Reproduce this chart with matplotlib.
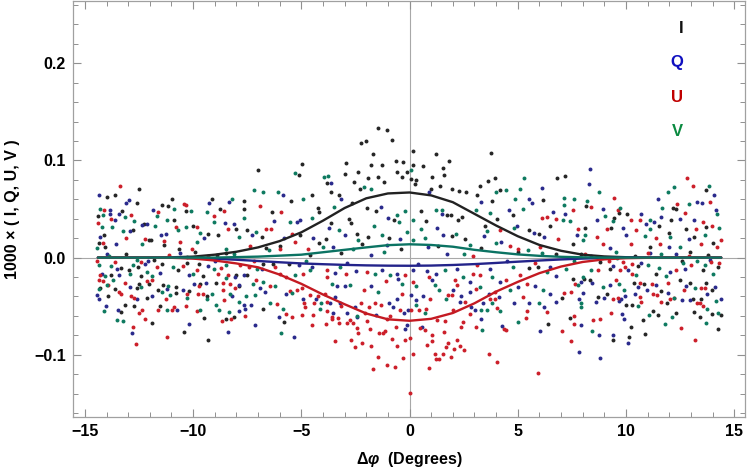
import numpy as np
import matplotlib
matplotlib.use("Agg")
import matplotlib.pyplot as plt
from matplotlib.ticker import MultipleLocator, FuncFormatter

plt.rcParams['font.family'] = ['Liberation Sans', 'DejaVu Sans']
plt.rcParams['font.weight'] = 'bold'
plt.rcParams['mathtext.fontset'] = 'custom'
plt.rcParams['mathtext.rm'] = 'Liberation Sans:bold'
plt.rcParams['mathtext.it'] = 'Liberation Sans:italic:bold'
plt.rcParams['mathtext.bf'] = 'Liberation Sans:bold'

# ---------------- data ----------------
series_names = ["I", "Q", "U", "V"]

I_points = [(-13.97,0.0628),(-13.62,0.0646),(-12.48,0.071),(-12.6,0.0564),(-10.98,0.0608),(-11.44,0.0543),(-11.15,0.0533),(-10.35,0.0478),(-9.15,0.0601),(-8.78,0.0499),(-7.67,0.0584),(-7.64,0.0495),(-14.4,0.043),(-13.28,0.0478),(-12.77,0.028),(-14.12,0.0232),(-14.37,0.0153),(-14.05,0.0109),(-12.25,0.0345),(-12.06,0.0181),(-11.95,0.0181),(-11.35,0.0126),(-10.87,0.0382),(-10.0,0.0321),(-9.3,0.024),(-8.86,0.0236),(-8.0,0.0297),(-7.53,0.028),(-10.66,0.0092),(-8.46,0.0051),
(-1.45,0.1333),(-1.05,0.1316),(-2.02,0.12),(-2.23,0.118),(-0.82,0.1206),(-1.69,0.1066),(-6.98,0.0905),(-4.96,0.096),(-5.11,0.0854),(-2.93,0.0977),(-1.77,0.0953),(-1.25,0.0953),(-0.63,0.0991),(-0.29,0.098),(-0.56,0.0885),(-0.14,0.0878),(-0.37,0.0827),(-2.4,0.0878),(-2.96,0.0861),(-3.8,0.0765),(-3.62,0.068),(-2.57,0.0776),(-1.9,0.082),(-1.48,0.0827),(-1.16,0.0776),(-2.3,0.0707),(-4.5,0.0642),(-5.48,0.0587),(-4.23,0.0509),(-3.28,0.0642),(-2.68,0.0564),(-1.57,0.0478),(-1.97,0.0512),(-6.36,0.0471),(-4.17,0.0468),(-2.79,0.0399),(-2.7,0.0358),(-0.73,0.0382),(-3.63,0.0358),(-6.81,0.0215),(-5.07,0.0229),(-3.87,0.0195),(-2.45,0.0246),(-1.93,0.0212),(-0.96,0.0205),(-6.64,0.0102),(-3.19,0.0048),(-4.6,0.0023),
(0.14,0.110),(1.21,0.1066),(3.76,0.108),(1.83,0.0998),(0.17,0.0957),(0.6,0.0943),(1.54,0.0923),(1.58,0.0851),(0.09,0.081),(0.32,0.08),(1.06,0.0827),(0.25,0.0758),(1.43,0.0738),(1.01,0.0707),(1.97,0.071),(3.26,0.0735),(3.62,0.0793),(3.93,0.082),(6.83,0.082),(7.17,0.0841),(4.2,0.0693),(2.29,0.0683),(2.6,0.0673),(3.11,0.0649),(3.8,0.0587),(6.16,0.059),(0.52,0.0478),(1.72,0.0437),(1.92,0.0434),(2.23,0.0389),(2.43,0.0416),(4.02,0.0396),(4.77,0.0441),(0.75,0.0372),(1.94,0.0222),(3.48,0.0324),(5.53,0.028),(5.99,0.0246),(6.48,0.0321),(2.55,0.0188),(6.79,0.0041),
(13.7,0.07),(8.17,0.0529),(9.67,0.0457),(12.18,0.0512),(12.3,0.0502),(10.04,0.0451),(9.45,0.0406),(8.11,0.0307),(11.53,0.0321),(12.07,0.0382),(12.79,0.0297),(13.72,0.0314),(9.33,0.0304),(12.01,0.0253),(13.13,0.0212),(7.53,0.0143),(11.1,0.0109),(14.02,0.015),(12.94,0.0058),
(-11.91,-0.0677),(-10.41,-0.0763),(-9.3,-0.0845),(-9.49,-0.0619),(-8.47,-0.0633),(-8.12,-0.0616),(-13.31,-0.0558),(-13.17,-0.0486),(-12.72,-0.0493),(-11.52,-0.0503),(-13.92,-0.04),(-12.12,-0.0414),(-10.8,-0.036),(-9.35,-0.0397),(-14.31,-0.0312),(-13.62,-0.0318),(-12.61,-0.0312),(-12.49,-0.0267),(-12.03,-0.0267),(-11.64,-0.0329),(-11.41,-0.0277),(-10.8,-0.0301),(-10.21,-0.0342),(-9.66,-0.0267),(-8.92,-0.0257),(-7.53,-0.0182),(-7.9,-0.0294),(-13.8,-0.0178),(-13.35,-0.0103),(-12.95,-0.013),(-12.55,-0.0096),(-12.43,-0.0192),(-11.46,-0.0062),(-10.69,-0.013),(-10.3,-0.0055),(-9.74,-0.0062),(-9.53,-0.0185),(-8.03,-0.0178),
(-6.79,-0.0524),(-5.79,-0.066),(-6.76,-0.0062),(-6.3,-0.0069),(-5.56,-0.0069),(6.39,-0.0684),(7.04,-0.0411),(5.53,-0.0103),(5.94,-0.0096),
(10.88,-0.079),(9.42,-0.0845),(10.13,-0.0821),(10.21,-0.0711),(14.26,-0.0739),(10.78,-0.0647),(7.43,-0.0626),(11.48,-0.0592),(12.32,-0.0568),(11.25,-0.0551),(13.16,-0.0558),(13.41,-0.0609),(13.99,-0.0582),(14.41,-0.0592),(10.3,-0.0489),(11.9,-0.0472),(13.09,-0.0424),(13.45,-0.0424),(10.02,-0.0489),(8.73,-0.0404),(9.13,-0.037),(11.64,-0.0342),(13.99,-0.0335),(13.72,-0.026),(12.98,-0.026),(12.49,-0.0233),(10.82,-0.0274),(10.36,-0.026),(10.56,-0.0089),(11.41,-0.0164),(8.33,-0.0233),(7.56,-0.0216),(8.08,-0.0216),(9.25,-0.0113),(13.56,-0.013),(14.26,-0.0096),
(-13.1,0.004),(-11.8,-0.002),(-9.9,0.006),(-8.9,0.003),(-6.0,0.012),(-4.2,0.015),(-2.2,0.014),(-0.4,0.009),(1.3,0.012),(3.3,0.010),(5.0,0.006),(7.9,0.004),(8.8,-0.005),(10.4,0.002),(12.6,-0.003),(13.8,0.003)]

Q_points = [(-14.35,0.0649),(-12.95,0.0594),(-13.11,0.056),(-9.26,0.056),(-8.33,0.0574),(-13.86,0.0492),(-13.83,0.0444),(-13.62,0.0386),(-13.43,0.0444),(-14.28,0.0215),(-13.57,0.014),(-12.91,0.0269),(-12.35,0.0338),(-12.11,0.0341),(-11.84,0.0485),(-11.26,0.0246),(-11.5,0.0228),(-9.49,0.0205),(-8.52,0.0359),(-8.12,0.0341),
(-3.62,0.0769),(-5.84,0.0642),(-3.19,0.0608),(-1.31,0.0519),(-6.25,0.0375),(-5.07,0.0389),(-5.2,0.0362),(-1.0,0.0409),(-3.7,0.0304),(-7.28,0.0232),(-5.82,0.0205),(-4.45,0.0205),(-3.0,0.0229),(-0.45,0.0191),(-3.53,0.0109),(-1.06,0.0126),
(6.1,0.0714),(0.88,0.068),(3.31,0.0577),(5.53,0.0601),(5.65,0.0564),(1.52,0.0451),(4.59,0.0492),(6.63,0.0468),(7.17,0.0444),(1.25,0.0307),(1.55,0.0229),(3.45,0.0222),(4.97,0.0321),(5.76,0.0253),(6.2,0.0212),(4.23,0.016),(0.86,0.0109),(1.71,0.0041),
(8.33,0.0912),(8.28,0.0758),(14.06,0.0639),(11.5,0.0608),(8.94,0.0502),(13.3,0.0567),(13.53,0.056),(14.18,0.0492),(10.7,0.0451),(11.64,0.0416),(13.15,0.0389),(8.64,0.0389),(11.28,0.0365),(10.91,0.0341),(12.48,0.0399),(9.87,0.0307),(7.74,0.0236),(9.99,0.0229),(12.92,0.0195),(9.25,0.0102),(11.99,0.0109),(11.1,0.0048),
(-12.83,-0.0773),(-10.2,-0.0688),(-8.4,-0.0766),(-13.48,-0.054),(-14.02,-0.0493),(-10.75,-0.0537),(-7.9,-0.0548),(-7.67,-0.0483),(-7.59,-0.053),(-8.21,-0.04),(-14.42,-0.038),(-14.34,-0.0428),(-12.57,-0.0424),(-11.88,-0.0397),(-7.87,-0.0284),(-12.92,-0.0301),(-11.2,-0.0318),(-10.49,-0.0329),(-9.97,-0.0267),(-9.41,-0.0257),(-8.06,-0.0199),(-14.22,-0.0171),(-13.41,-0.0178),(-13.54,-0.0117),(-12.23,-0.0062),(-11.51,-0.0158),(-10.18,-0.0182),(-9.3,-0.0089),(-7.66,-0.0182),
(-5.34,-0.0821),(-7.16,-0.0695),(-6.02,-0.0616),(-0.22,-0.0739),(-0.11,-0.0695),(-2.45,-0.0616),(-3.53,-0.0575),(-1.53,-0.0592),(-0.26,-0.0575),(-0.05,-0.0534),(-7.31,-0.0489),(-4.91,-0.0421),(-3.68,-0.0472),(-2.88,-0.0568),(-4.3,-0.0431),(-3.43,-0.0404),(-3.22,-0.0465),(-2.51,-0.0507),(-0.94,-0.0472),(-0.76,-0.0507),(-0.6,-0.0421),(-0.52,-0.0216),(-1.76,-0.0294),(-2.99,-0.0294),(-3.34,-0.0294),(-5.71,-0.0377),(-6.68,-0.0359),(-6.91,-0.0315),(-3.43,-0.0158),(-2.48,-0.0137),(-1.25,-0.013),(-0.6,-0.0164),(-4.53,-0.0096),
(0.57,-0.0712),(4.25,-0.0705),(6.03,-0.0756),(3.31,-0.0636),(3.03,-0.054),(3.4,-0.0466),(2.32,-0.0455),(2.86,-0.0507),(0.29,-0.0438),(0.63,-0.0397),(2.4,-0.0397),(2.02,-0.0336),(2.79,-0.0353),(3.66,-0.037),(4.14,-0.0404),(4.82,-0.0472),(5.53,-0.0472),(6.22,-0.0507),(6.76,-0.0455),(6.48,-0.037),(5.79,-0.0294),(5.02,-0.0301),(4.17,-0.025),(2.79,-0.025),(1.06,-0.0233),(0.09,-0.038),(0.81,-0.0137),(1.22,-0.0164),(3.71,-0.0113),(6.79,-0.0192),(0.17,-0.013),
(8.8,-0.1029),(7.84,-0.0971),(10.08,-0.0883),(9.38,-0.0794),(8.76,-0.0801),(7.9,-0.0698),(9.91,-0.063),(9.82,-0.0581),(12.61,-0.0438),(12.95,-0.0438),(14.39,-0.0424),(7.82,-0.0428),(8.6,-0.0455),(9.68,-0.0448),(9.79,-0.0421),(9.96,-0.0397),(8.02,-0.0363),(8.99,-0.0411),(10.41,-0.037),(11.41,-0.0284),(11.96,-0.0363),(13.75,-0.037),(14.12,-0.0301),(12.79,-0.0294),(10.98,-0.0336),(10.56,-0.0301),(10.1,-0.013),(9.25,-0.0284),(7.9,-0.025),(8.45,-0.026),(9.41,-0.0089),(12.02,-0.0147),(12.72,-0.0113),
(-14.0,0.004),(-12.1,-0.003),(-10.6,0.005),(-9.0,-0.004),(-6.8,-0.012),(-5.1,-0.008),(-2.9,-0.006),(-1.8,0.003),(0.4,-0.007),(2.2,-0.012),(4.5,-0.004),(6.5,-0.010),(8.4,0.002),(10.7,-0.006),(12.3,0.004),(13.9,-0.002)]

U_points = [(-13.38,0.0741),(-10.4,0.0553),(-10.32,0.054),(-8.58,0.0481),(-14.11,0.0488),(-14.4,0.0352),(-13.78,0.0392),(-12.85,0.0434),(-14.15,0.0153),(-13.11,0.0205),(-11.61,0.0468),(-12.23,0.0195),(-11.35,0.017),(-10.8,0.0314),(-9.84,0.0311),(-9.04,0.0423),(-8.41,0.0297),(-10.61,0.016),(-10.07,0.0089),
(-6.93,0.0533),(-5.94,0.0464),(-6.65,0.0297),(-6.41,0.0297),(-5.45,0.0246),(-5.31,0.0157),(-7.38,0.0116),(-5.99,0.0092),(-4.68,0.0092),
(6.11,0.0406),(6.36,0.0416),(6.79,0.0399),(4.17,0.028),(6.87,0.0188),(4.63,0.0116),(5.02,0.0092),(6.02,0.0109),(2.94,0.0013),
(12.8,0.0817),(13.1,0.0735),(9.47,0.0611),(7.54,0.0492),(8.37,0.0519),(9.61,0.0485),(12.36,0.0553),(13.89,0.0571),(12.71,0.0457),(7.79,0.0297),(10.24,0.0382),(10.64,0.0389),(13.55,0.0365),(13.98,0.0328),(9.13,0.0297),(10.45,0.028),(13.25,0.0294),(8.64,0.0212),(11.38,0.0205),(14.41,0.0185),(8.94,0.0143),(10.25,0.0143),(11.56,0.0143),(13.49,0.0136),(14.21,0.0109),
(-12.65,-0.0886),(-12.78,-0.0712),(-11.2,-0.0821),(-8.66,-0.0653),(-8.24,-0.063),(-12.48,-0.0571),(-12.35,-0.0534),(-12.21,-0.0633),(-11.64,-0.0544),(-10.97,-0.0534),(-10.89,-0.051),(-10.35,-0.0503),(-9.84,-0.0551),(-7.59,-0.0602),(-8.57,-0.0438),(-13.34,-0.037),(-12.88,-0.0397),(-12.71,-0.0414),(-11.24,-0.0428),(-10.27,-0.037),(-9.78,-0.037),(-9.53,-0.037),(-8.61,-0.0329),(-8.07,-0.0308),(-14.37,-0.0226),(-14.15,-0.024),(-13.94,-0.0284),(-13.42,-0.0359),(-13.14,-0.026),(-12.15,-0.024),(-11.92,-0.0226),(-9.72,-0.0294),(-8.64,-0.026),(-8.3,-0.0267),(-14.43,-0.0038),(-14.31,-0.0178),(-12.43,-0.0045),(-11.69,-0.0096),(-10.46,-0.0089),(-9.8,-0.013),(-8.84,-0.0164),(-8.69,-0.0103),(-8.41,-0.0182),(-7.84,-0.008),(-7.44,-0.0096),
(-0.66,-0.1122),(-1.03,-0.1108),(-1.68,-0.1149),(-1.48,-0.1026),(-0.29,-0.1033),(-2.54,-0.0923),(-2.2,-0.0876),(-1.8,-0.091),(-2.7,-0.0848),(-3.45,-0.0855),(-0.6,-0.091),(-0.2,-0.0848),(-0.8,-0.0835),(-4.53,-0.0695),(-3.87,-0.0684),(-5.41,-0.0609),(-4.99,-0.0592),(-4.45,-0.0592),(-3.6,-0.0616),(-3.25,-0.067),(-2.91,-0.067),(-2.6,-0.0677),(-2.45,-0.0729),(-2.37,-0.0773),(-1.96,-0.065),(-1.83,-0.0739),(-1.43,-0.0773),(-1.22,-0.0773),(-1.13,-0.0759),(-0.63,-0.0711),(-3.56,-0.0636),(-3.3,-0.0626),(-2.76,-0.0643),(-2.06,-0.0575),(-1.06,-0.0636),(-0.91,-0.0602),(-0.45,-0.054),(-6.11,-0.0479),(-5.71,-0.0581),(-4.88,-0.0472),(-4.82,-0.0506),(-4.42,-0.0472),(-3.83,-0.0547),(-3.19,-0.05),(-3.83,-0.0455),(-2.22,-0.0472),(-1.86,-0.0507),(-1.6,-0.0465),(-1.3,-0.0489),(-0.33,-0.037),(-2.11,-0.0329),(-3.91,-0.037),(-4.22,-0.0397),(-4.6,-0.0387),(-4.99,-0.0308),(-5.22,-0.0329),(-5.53,-0.0342),(-6.45,-0.0294),(-7.1,-0.0226),(-5.99,-0.0164),(-5.71,-0.0199),(-4.94,-0.0171),(-3.83,-0.0123),(-2.94,-0.0164),(-1.96,-0.0147),(-0.22,-0.0182),
(0.0,-0.139),(0.89,-0.1132),(5.94,-0.119),(4.02,-0.1077),(3.66,-0.0992),(1.92,-0.1026),(1.22,-0.1047),(1.37,-0.1047),(1.17,-0.0995),(1.55,-0.0992),(1.68,-0.0923),(2.32,-0.091),(2.51,-0.0951),(2.05,-0.0944),(1.78,-0.0876),(2.2,-0.0848),(0.17,-0.0995),(0.81,-0.09),(1.03,-0.0855),(1.06,-0.0797),(1.6,-0.0763),(0.71,-0.0746),(0.0,-0.0831),(0.48,-0.0729),(2.4,-0.0712),(2.48,-0.066),(3.06,-0.0712),(4.37,-0.0739),(4.48,-0.0746),(7.04,-0.0753),(5.4,-0.0626),(1.25,-0.0643),(1.63,-0.065),(2.79,-0.0582),(4.02,-0.0523),(3.74,-0.0425),(3.96,-0.0431),(2.55,-0.0455),(2.02,-0.054),(0.75,-0.0524),(0.45,-0.054),(0.09,-0.0534),(0.94,-0.0421),(1.78,-0.0387),(1.98,-0.0387),(2.2,-0.0284),(3.06,-0.0318),(3.94,-0.0353),(5.25,-0.0404),(5.43,-0.0548),(6.33,-0.0558),(7.13,-0.0363),(5.43,-0.0267),(4.48,-0.0233),(3.25,-0.0182),(2.09,-0.0233),(0.17,-0.025),(2.94,-0.0164),(5.09,-0.0182),
(7.45,-0.0859),(13.21,-0.0848),(12.53,-0.0729),(7.62,-0.0688),(8.48,-0.0647),(8.79,-0.063),(7.59,-0.0599),(9.3,-0.0571),(10.68,-0.0455),(11.62,-0.0455),(12.02,-0.0431),(13.27,-0.0472),(13.42,-0.0472),(13.58,-0.05),(9.41,-0.0431),(10.64,-0.0404),(9.64,-0.0411),(11.25,-0.037),(11.44,-0.038),(12.24,-0.0411),(13.64,-0.0308),(13.49,-0.0308),(12.67,-0.0329),(11.96,-0.026),(11.19,-0.0267),(10.67,-0.026),(10.3,-0.0164),(9.56,-0.0233),(9.74,-0.013),(7.63,-0.0267),(7.48,-0.0353),(8.71,-0.013),(9.87,-0.0045),(9.94,-0.0096),(10.3,-0.0069),(12.33,-0.0123),(13.02,-0.008),(13.95,-0.0045),
(-13.6,-0.005),(-11.1,0.003),(-9.3,0.002),(-7.2,-0.004),(-6.2,-0.010),(-3.8,-0.020),(-1.1,-0.024),(0.9,-0.020),(3.1,-0.008),(5.8,-0.006),(8.1,0.004),(9.2,-0.003),(11.0,0.005),(12.9,0.002),(14.3,-0.006)]

V_points = [(-10.89,0.0505),(-10.1,0.0475),(-9.35,0.0464),(-8.2,0.0601),(-7.64,0.0403),(-14.31,0.0499),(-14.15,0.0437),(-14.2,0.0311),(-13.74,0.0311),(-13.15,0.0416),(-12.71,0.0372),(-13.23,0.0277),(-14.42,0.0102),(-11.75,0.0328),(-11.69,0.0423),(-12.37,0.0136),(-11.21,0.0382),(-10.69,0.0287),(-10.31,0.0311),(-9.69,0.025),(-9.04,0.0365),(-7.9,0.0212),(-9.84,0.0164),(-8.46,0.0089),
(-5.3,0.0871),(-7.19,0.07),(-6.79,0.0676),(-3.76,0.0844),(-3.96,0.0834),(-2.09,0.0728),(-1.8,0.0707),(-6.07,0.0673),(-4.94,0.0601),(-3.51,0.0519),(-4.53,0.0409),(-5.51,0.0365),(-1.65,0.033),(-0.6,0.0434),(-0.23,0.0478),(-0.51,0.0365),(-3.28,0.028),(-7.11,0.0266),(-1.25,0.0229),(-0.14,0.0263),(-3.99,0.0109),(-2.6,0.0092),
(0.08,0.0902),(5.29,0.082),(5.11,0.0707),(4.45,0.0697),(4.0,0.068),(4.89,0.0605),(7.13,0.0615),(7.13,0.0543),(1.21,0.0485),(1.48,0.0492),(3.05,0.0492),(3.71,0.0458),(5.22,0.0495),(7.1,0.0382),(0.14,0.0389),(0.55,0.0297),(2.14,0.0246),(3.59,0.027),(4.82,0.0307),(2.79,0.0126),(0.17,0.0178),(5.48,0.0082),
(13.83,0.0741),(8.77,0.067),(11.93,0.067),(12.24,0.0728),(7.62,0.0605),(8.2,0.0587),(9.71,0.0512),(11.67,0.0512),(12.92,0.0547),(14.22,0.0451),(9.02,0.0423),(7.43,0.0372),(9.41,0.0372),(11.13,0.0389),(14.3,0.0304),(11.13,0.0297),(8.1,0.0229),(10.87,0.0219),(12.02,0.0212),(13.64,0.0229),(8.02,0.0178),(12.48,0.0109),(9.56,0.0058),
(-13.51,-0.0643),(-13.26,-0.0653),(-14.11,-0.0551),(-11.2,-0.054),(-9.67,-0.0534),(-8.95,-0.049),(-8.8,-0.0534),(-8.33,-0.0558),(-7.9,-0.0455),(-8.29,-0.0376),(-7.55,-0.0397),(-11.06,-0.038),(-10.27,-0.0411),(-9.38,-0.0431),(-9.14,-0.0377),(-14.34,-0.0322),(-14.0,-0.0284),(-13.72,-0.0233),(-12.4,-0.0301),(-11.88,-0.0188),(-11.46,-0.0353),(-11.14,-0.0294),(-8.49,-0.0205),(-14.37,-0.0079),(-14.06,-0.0188),(-13.8,-0.0086),(-12.9,-0.0171),(-12.8,-0.0076),(-12.12,-0.015),(-10.92,-0.0096),(-10.0,-0.0164),(-9.04,-0.0113),(-8.49,-0.008),
(-5.94,-0.078),(-2.45,-0.0602),(-6.45,-0.0472),(-5.84,-0.0524),(-4.14,-0.0524),(-4.07,-0.0472),(-7.13,-0.0387),(-0.33,-0.0267),(-1.45,-0.0353),(-2.76,-0.0284),(-3.59,-0.0267),(-5.41,-0.0363),(-6.22,-0.0294),(-7.22,-0.0274),(-6.76,-0.025),(-5.28,-0.0182),(-4.6,-0.013),(-1.6,-0.0164),(-0.91,-0.0182),(-7.07,-0.0113),(-3.22,-0.0096),
(3.36,-0.0746),(5.02,-0.0664),(3.32,-0.0534),(3.56,-0.054),(4.17,-0.0548),(3.82,-0.0466),(0.71,-0.0575),(0.32,-0.0489),(1.68,-0.0431),(3.25,-0.0301),(5.99,-0.0466),(6.17,-0.0336),(4.63,-0.0329),(3.79,-0.0199),(2.48,-0.0199),(1.37,-0.0329),(1.17,-0.0284),(0.32,-0.0294),(1.63,-0.013),(4.79,-0.0096),(6.33,-0.0147),(7.25,-0.0113),
(8.45,-0.0753),(11.81,-0.0688),(13.69,-0.0677),(11.05,-0.0592),(12.15,-0.0616),(14.26,-0.0565),(13.76,-0.0527),(10.56,-0.0493),(12.22,-0.0414),(14.18,-0.0445),(7.9,-0.0462),(7.93,-0.0507),(13.18,-0.0308),(11.87,-0.0192),(9.91,-0.0329),(9.68,-0.0274),(10.45,-0.0182),(11.02,-0.008),(11.53,-0.0103),(8.94,-0.0301),(8.02,-0.0199),(7.79,-0.0284),(8.4,-0.013),(12.64,-0.0055),(13.64,-0.008),(14.02,-0.0164),
(-13.9,0.002),(-12.6,-0.002),(-10.3,0.001),(-8.1,0.004),(-6.5,0.008),(-4.8,-0.004),(-2.4,0.018),(-1.2,0.006),(0.7,0.020),(2.5,0.004),(4.0,0.015),(6.1,0.005),(7.6,-0.003),(9.6,0.0),(11.6,0.004),(13.3,-0.004)]

# fitted curves
curve_x = [-14.4, -13, -12, -11, -10, -9, -8, -7, -6, -5, -4, -3, -2, -1, 0,
           1, 2, 3, 4, 5, 6, 7, 8, 9, 10, 11, 12, 13, 14.4]
I_curve = [0, 0, 0, 0.0003, 0.001, 0.003, 0.006, 0.0105, 0.017, 0.026, 0.038, 0.051, 0.061, 0.066, 0.067,
           0.064, 0.057, 0.045, 0.033, 0.022, 0.013, 0.007, 0.003, 0.0012, 0.0004, 0.0001, 0, 0, 0]
Q_curve = [0, 0, 0, 0, -0.0005, -0.0012, -0.0022, -0.0035, -0.0048, -0.006, -0.0068, -0.0075, -0.008, -0.0083, -0.0084,
           -0.0082, -0.0076, -0.0067, -0.0055, -0.0042, -0.003, -0.0019, -0.001, -0.0004, -0.0001, 0, 0, 0, 0]
U_curve = [0, 0, 0, -0.0002, -0.001, -0.003, -0.006, -0.010, -0.0175, -0.027, -0.038, -0.048, -0.0575, -0.0635, -0.065,
           -0.063, -0.057, -0.047, -0.035, -0.025, -0.016, -0.0092, -0.0045, -0.0018, -0.0006, -0.0002, 0, 0, 0]
V_curve = [0, 0, 0, 0, 0, 0, 0.0005, 0.001, 0.002, 0.003, 0.0055, 0.008, 0.0105, 0.0128, 0.0137,
           0.013, 0.0112, 0.008, 0.0055, 0.0033, 0.0018, 0.0008, 0.0003, 0, 0, 0, 0, 0, 0]

x_ticks = [-15, -10, -5, 0, 5, 10, 15]
y_ticks = [-0.1, 0.0, 0.1, 0.2]

# ---------------- styles ----------------
dot_colors = {"I": "#262626", "Q": "#2a2a8c", "U": "#cc1f2a", "V": "#0e7a60"}
line_colors = {"I": "#222222", "Q": "#23238a", "U": "#c41a22", "V": "#0b7363"}
label_colors = {"I": "#111111", "Q": "#1010c0", "U": "#c00000", "V": "#0a8a40"}

fig = plt.figure(figsize=(7.47, 4.75), dpi=100)
ax = fig.add_axes([73/747, 1 - 417/475, 672/747, 416/475])

pts = {"I": I_points, "Q": Q_points, "U": U_points, "V": V_points}
for name in series_names:
    arr = np.array(pts[name])
    ax.scatter(arr[:, 0], arr[:, 1], s=8, color=dot_colors[name], linewidths=0, zorder=2)

# reference axes through origin
ax.axhline(0, color="#a8a8a8", lw=0.8, zorder=1)
ax.axvline(0, color="#a8a8a8", lw=0.8, zorder=1)

curves = {"I": I_curve, "Q": Q_curve, "U": U_curve, "V": V_curve}
for name in series_names:
    ax.plot(curve_x, curves[name], color=line_colors[name], lw=1.7, zorder=3,
            solid_capstyle="round", solid_joinstyle="round")

ax.set_xlim(-15.55, 15.5)
ax.set_ylim(-0.164, 0.264)
ax.set_xticks(x_ticks)
ax.set_yticks(y_ticks)
ax.xaxis.set_minor_locator(MultipleLocator(1))
ax.yaxis.set_minor_locator(MultipleLocator(0.02))
ax.yaxis.set_major_formatter(FuncFormatter(lambda v, p: f"{v:.1f}".replace("-", "\u2212")))
ax.tick_params(which="both", direction="in", top=True, right=True, color="#909090",
               labelsize=11.5, pad=5)
ax.tick_params(which="major", length=6, width=0.8)
ax.tick_params(which="minor", length=3.5, width=0.7)
for lab in ax.get_xticklabels() + ax.get_yticklabels():
    lab.set_fontweight("bold")
for sp in ax.spines.values():
    sp.set_color("#a0a0a0")
    sp.set_linewidth(0.9)

ax.set_xlabel(r"$\Delta\varphi$  (Degrees)", fontsize=11.5, fontweight="bold", labelpad=8)
ax.set_ylabel("1000 × ( I, Q, U, V )", fontsize=11.5, fontweight="bold", labelpad=10)

label_y = [0.933, 0.851, 0.767, 0.686]
label_x = [0.905, 0.899, 0.899, 0.899]
for name, lx, ly in zip(series_names, label_x, label_y):
    ax.text(lx, ly, name, transform=ax.transAxes, ha="center", va="center",
            fontsize=12, fontweight="bold", color=label_colors[name])

fig.savefig("out.png", dpi=100)
